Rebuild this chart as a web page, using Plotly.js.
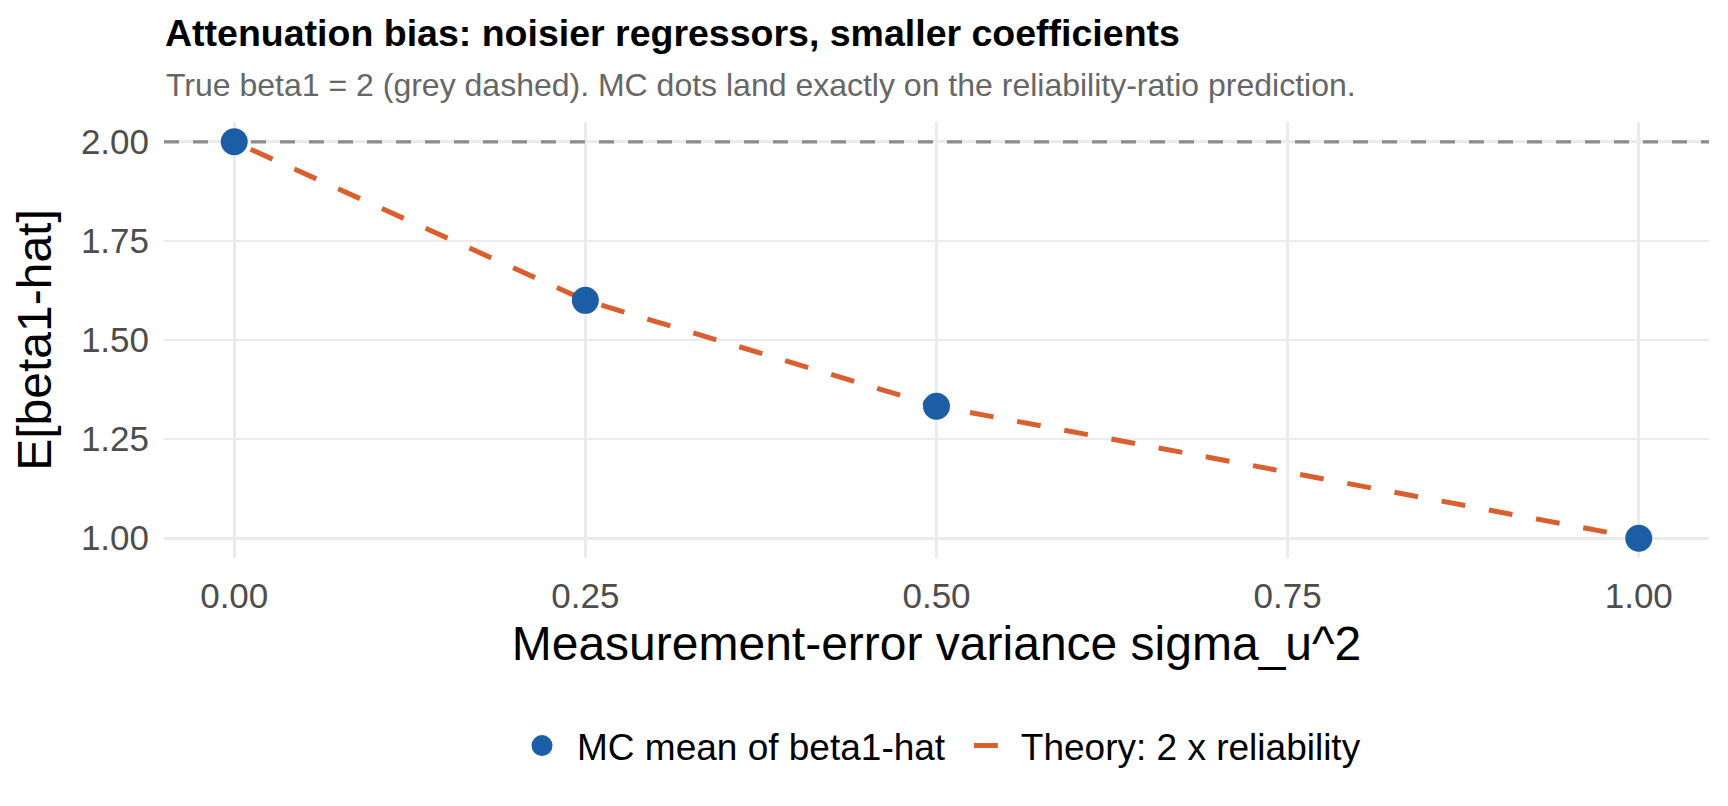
<!DOCTYPE html>
<html>
<head>
<meta charset="utf-8">
<script src="https://cdn.plot.ly/plotly-3.0.1.min.js"></script>
<style>
  html, body { margin: 0; padding: 0; background: #ffffff; }
  #chart { width: 1728px; height: 806px; }
</style>
</head>
<body>
<div id="chart"></div>
<script>
// measurement-error variance on the x axis
const sigmaU2 = [0, 0.25, 0.5, 1.0]
// Monte Carlo mean of beta1-hat at each sigma_u^2
const mcMean = [2.0, 1.6, 1.333, 1.0]
// theory: 2 x reliability ratio at the same grid
const theoryValues = [2.0, 1.6, 1.333, 1.0]
const trueBeta1 = 2

const xRange = [-0.05, 1.05]
const yRange = [0.95, 2.05]
const xTickVals = [0, 0.25, 0.5, 0.75, 1]
const xTickText = ['0.00', '0.25', '0.50', '0.75', '1.00']
const yTickVals = [1, 1.25, 1.5, 1.75, 2]
const yTickText = ['1.00', '1.25', '1.50', '1.75', '2.00']

const FONT = 'Liberation Sans, Arial, Helvetica, sans-serif'
const COLOR_BLUE = '#1B5EA6'
const COLOR_ORANGE = '#DA5F2F'
const COLOR_GRID = '#EBEBEB'
const COLOR_REF = '#8C8C8C'

const traces = [
  {
    // true beta1 reference line across the whole panel
    x: xRange,
    y: [trueBeta1, trueBeta1],
    mode: 'lines',
    type: 'scatter',
    line: { color: COLOR_REF, width: 3.2, dash: '15px,14px' },
    showlegend: false,
    hoverinfo: 'skip'
  },
  {
    x: sigmaU2,
    y: theoryValues,
    name: 'Theory: 2 x reliability',
    mode: 'lines',
    type: 'scatter',
    // 24/24 dashes, phase shifted so the legend key shows one centred dash
    line: { color: COLOR_ORANGE, width: 5, dash: '0px,18px,24px,6px' },
    legendrank: 2,
    hoverinfo: 'skip'
  },
  {
    x: sigmaU2,
    y: mcMean,
    name: 'MC mean of beta1-hat',
    mode: 'markers',
    type: 'scatter',
    marker: { color: COLOR_BLUE, size: 22, line: { color: COLOR_BLUE, width: 5 } },
    legendrank: 1,
    hoverinfo: 'skip'
  }
]

const layout = {
  width: 1728,
  height: 806,
  paper_bgcolor: '#ffffff',
  plot_bgcolor: '#ffffff',
  margin: { l: 164, r: 19, t: 122, b: 248, pad: 0 },
  font: { family: FONT, color: '#000000' },
  title: {
    text: '<b>Attenuation bias: noisier regressors, smaller coefficients</b>',
    font: { family: FONT, size: 37.5, color: '#000000' },
    xref: 'container',
    x: 165 / 1728,
    xanchor: 'left',
    yref: 'container',
    y: 1 - 33 / 806,
    yanchor: 'middle'
  },
  annotations: [
    {
      text: 'True beta1 = 2 (grey dashed). MC dots land exactly on the reliability-ratio prediction.',
      xref: 'paper',
      yref: 'paper',
      x: 0,
      y: (558 - 85) / 436,
      xanchor: 'left',
      yanchor: 'middle',
      showarrow: false,
      font: { family: FONT, size: 32, color: '#666666' }
    }
  ],
  xaxis: {
    range: xRange,
    tickvals: xTickVals,
    ticktext: xTickText,
    showgrid: true,
    gridcolor: COLOR_GRID,
    gridwidth: 2.8,
    zeroline: false,
    showline: false,
    ticks: '',
    ticklabelstandoff: 14,
    tickfont: { family: FONT, size: 35, color: '#4D4D4D' },
    automargin: false,
    fixedrange: true,
    title: {
      text: 'Measurement-error variance sigma_u^2',
      font: { family: FONT, size: 48, color: '#000000' },
      standoff: 12
    }
  },
  yaxis: {
    range: yRange,
    tickvals: yTickVals,
    ticktext: yTickText,
    showgrid: true,
    gridcolor: COLOR_GRID,
    gridwidth: 2.8,
    zeroline: false,
    showline: false,
    ticks: '',
    ticklabelstandoff: 14,
    tickfont: { family: FONT, size: 35, color: '#4D4D4D' },
    automargin: false,
    fixedrange: true,
    title: {
      text: 'E[beta1-hat]',
      font: { family: FONT, size: 48, color: '#000000' },
      standoff: 14
    }
  },
  showlegend: true,
  legend: {
    orientation: 'h',
    xref: 'paper',
    x: 0.5,
    xanchor: 'center',
    yref: 'paper',
    y: (558 - 746) / 436,
    yanchor: 'middle',
    font: { family: FONT, size: 37, color: '#000000' },
    bgcolor: 'rgba(0,0,0,0)',
    itemwidth: 60,
    tracegroupgap: 0
  },
  hovermode: false
}

Plotly.newPlot('chart', traces, layout, { displayModeBar: false, staticPlot: true })
</script>
</body>
</html>
